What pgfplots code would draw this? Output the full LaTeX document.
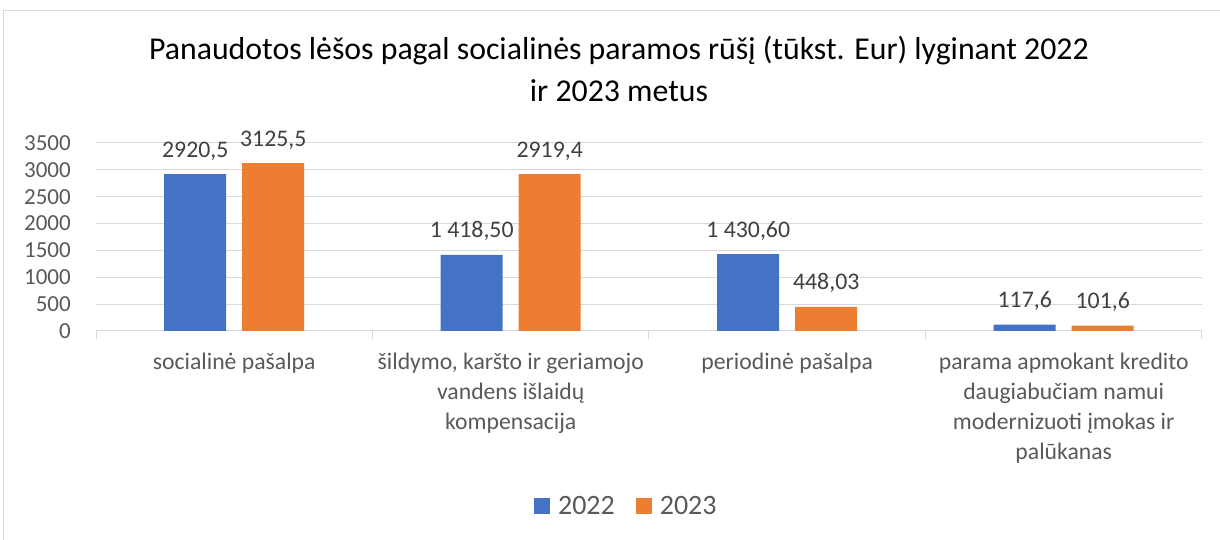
\documentclass[border=0pt]{standalone}
\usepackage{pgfplots}
\pgfplotsset{compat=1.18}
\usepackage{fontspec}
\setmainfont{Carlito}
\definecolor{cblue}{HTML}{4472C4}
\definecolor{corange}{HTML}{ED7D31}
\definecolor{gridc}{HTML}{D9D9D9}
\definecolor{txt}{HTML}{595959}
\definecolor{lbl}{HTML}{404040}
\begin{document}
\begin{tikzpicture}[x=1pt,y=1pt]
\useasboundingbox (0,0) rectangle (1220,540);
\draw[gridc, line width=1pt] (3,0) -- (3,529) -- (1220,529);
\node[anchor=base, inner sep=0pt, font=\fontsize{31.8}{38}\selectfont, text=black] at (619,480) {Panaudotos lėšos pagal socialinės paramos rūšį (tūkst. Eur) lyginant 2022};
\node[anchor=base, inner sep=0pt, font=\fontsize{31.8}{38}\selectfont, text=black] at (619,438) {ir 2023 metus};
\begin{axis}[
  at={(96pt,209pt)}, anchor=south west,
  scale only axis, width=1106pt, height=188pt,
  xmin=-0.5, xmax=3.5, ymin=0, ymax=3500,
  ybar=16pt, bar width=62pt,
  axis line style={draw=none},
  ytick={0,500,...,3500},
  ymajorgrids, grid style={gridc, line width=1pt},
  ytick style={draw=none},
  yticklabel style={anchor=east, inner sep=0pt, xshift=-17pt, text=txt, font=\fontsize{23}{28}\selectfont},
  /pgf/number format/assume math mode=true,
  /pgf/number format/1000 sep={},
  scaled y ticks=false,
  xtick={-0.5,0.5,1.5,2.5,3.5},
  xticklabels={},
  xtick pos=bottom, tick align=outside,
  major tick length=8pt,
  xtick style={gridc, line width=1pt},
  extra x ticks={0,1,2,3},
  extra x tick labels={socialinė pašalpa, {šildymo, karšto ir geriamojo\\vandens išlaidų\\kompensacija}, periodinė pašalpa, {parama apmokant kredito\\daugiabučiam namui\\modernizuoti įmokas ir\\palūkanas}},
  extra x tick style={major tick length=0pt, xtick style={draw=none}, xticklabel style={anchor=north, inner sep=0pt, yshift=-22pt, align=center, text=txt, font=\fontsize{23.7}{30}\selectfont}},
  point meta=explicit symbolic,
  nodes near coords={\pgfplotspointmeta},
  every node near coord/.append style={anchor=base, inner sep=0pt, yshift=17pt, text=lbl, font=\fontsize{23.8}{28}\selectfont},
  legend style={at={(0.4795,-0.931)}, anchor=center, draw=none, fill=none, legend columns=2, font=\fontsize{28}{32}\selectfont, text=txt, /tikz/every odd column/.append style={column sep=6pt}, /tikz/every even column/.append style={column sep=19pt}},
]
\addplot[fill=cblue, draw=none, legend image code/.code={\fill[cblue] (0pt,-8pt) rectangle (16pt,8pt);}] coordinates {(0,2920.5) [2920,5] (1,1418.5) [1 418,50] (2,1430.6) [1 430,60] (3,117.6) [117,6]};
\addlegendentry{2022}
\addplot[fill=corange, draw=none, legend image code/.code={\fill[corange] (0pt,-8pt) rectangle (16pt,8pt);}] coordinates {(0,3125.5) [3125,5] (1,2919.4) [2919,4] (2,448.03) [448,03] (3,101.6) [101,6]};
\addlegendentry{2023}
\end{axis}
\end{tikzpicture}
\end{document}
